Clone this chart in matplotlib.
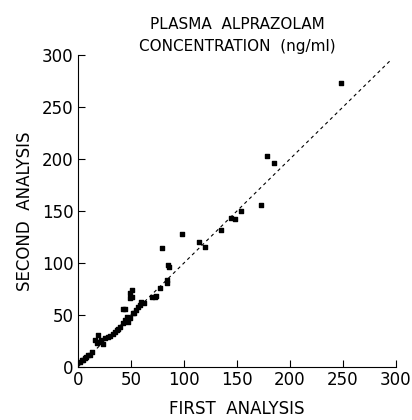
import matplotlib.pyplot as plt

# values (ng/ml)
first_analysis = [2, 3.5, 5, 6.6, 8, 9.7, 11, 13, 16, 17.6, 19, 19, 22, 24, 25.5,
                  28.6, 30, 33, 35, 36.5, 38, 40, 43, 43, 44, 44, 46, 47.5, 49,
                  49, 49, 50.6, 50.6, 52, 53, 55, 57, 58.5, 60, 62, 70, 72.6, 74,
                  77, 79, 84, 84.5, 85, 86, 98, 114.5, 120, 135, 144.5, 148, 154,
                  173, 178, 185, 248]
second_analysis = [5, 6.7, 6.7, 8.4, 10, 11.5, 12, 14.7, 26, 22.8, 31, 24, 26, 22, 27.5,
                   29, 30, 32, 34, 35.6, 37, 39, 42, 55.5, 45, 56, 48, 43.5, 47,
                   66, 71, 67, 74, 51.6, 52, 55, 58, 60, 63, 62, 67, 67.6, 68,
                   76, 114, 81, 84, 98, 96, 128, 120, 115.7, 132, 143.5, 142, 150,
                   155.5, 203, 196, 273]
ticks = [0, 50, 100, 150, 200, 250, 300]

plt.rcParams['font.family'] = 'DejaVu Sans'

fig = plt.figure(figsize=(4.12, 4.2), dpi=100)
ax = fig.add_axes([0.189, 0.126, 0.772, 0.743])

# line of identity
ax.plot([0, 295], [0, 295], linestyle=(0, (3, 3)), color='black', linewidth=0.8)
ax.scatter(first_analysis, second_analysis, marker='s', s=9, color='black', zorder=3)

ax.set_xlim(0, 300)
ax.set_ylim(0, 300)
ax.set_xticks(ticks)
ax.set_yticks(ticks)
ax.tick_params(direction='in', length=5, width=0.8, labelsize=12, pad=3)
ax.spines['top'].set_visible(False)
ax.spines['right'].set_visible(False)

ax.set_xlabel('FIRST  ANALYSIS', fontsize=12, labelpad=8)
ax.set_ylabel('SECOND  ANALYSIS', fontsize=12, labelpad=6)
ax.set_title('PLASMA  ALPRAZOLAM\nCONCENTRATION  (ng/ml)', fontsize=11, linespacing=1.6, pad=3)

plt.savefig('out.png', dpi=100)
